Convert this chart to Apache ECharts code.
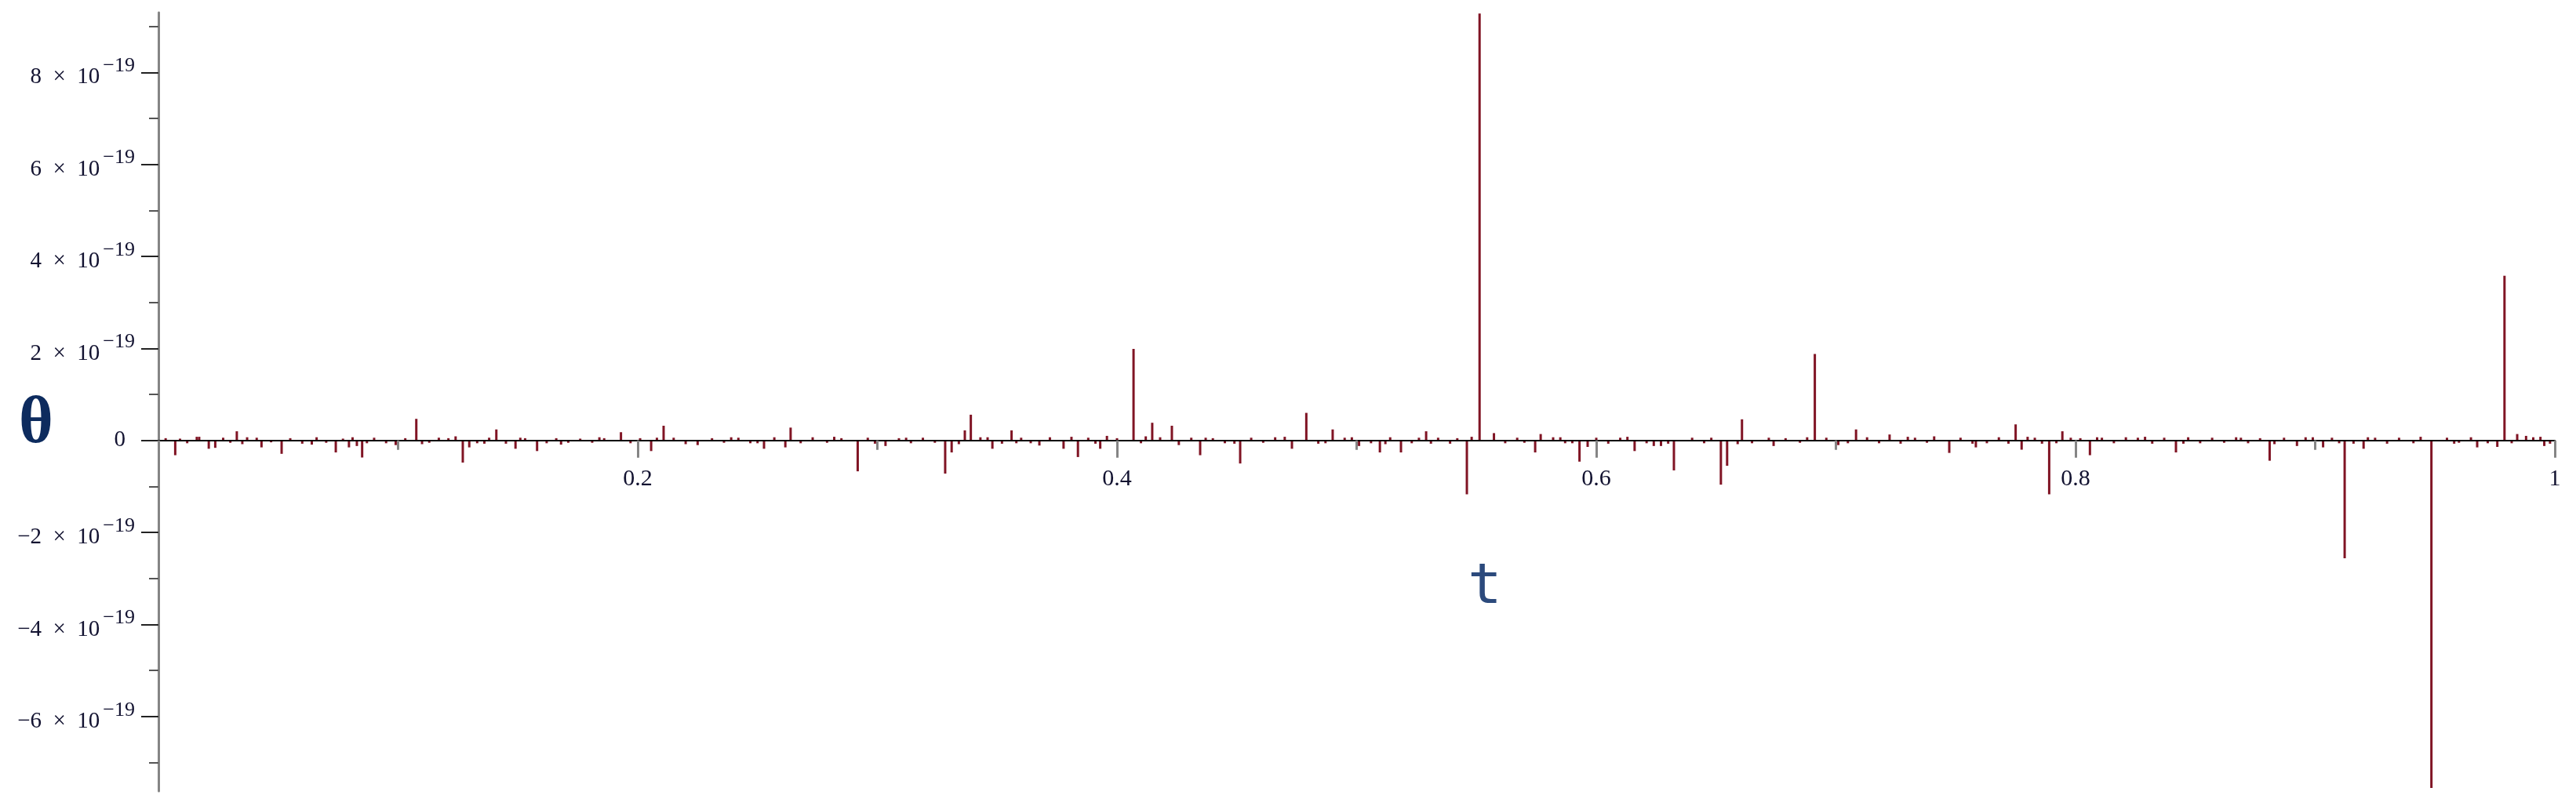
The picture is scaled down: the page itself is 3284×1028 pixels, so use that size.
<!DOCTYPE html>
<html>
<head>
<meta charset="utf-8" />
<style>
  html, body { margin: 0; padding: 0; background: #fff; }
  #main { width: 3284px; height: 1028px; }
</style>
<script src="https://cdn.jsdelivr.net/npm/echarts@6/dist/echarts.min.js"></script>
</head>
<body>
<div id="main"></div>
<script type="text/javascript">
// theta values are in units of 1e-19
var spikeT = [0.0070, 0.0210, 0.0237, 0.0327, 0.0430, 0.0514, 0.0740, 0.0795, 0.0828, 0.0850,
  0.0990, 0.1076, 0.1270, 0.1297, 0.1410, 0.1490, 0.1580, 0.1930,
  0.2056, 0.2108, 0.2527, 0.2616, 0.2638, 0.2918, 0.3034, 0.3283, 0.3310, 0.3365, 0.3390,
  0.3480, 0.3560, 0.3676, 0.3777, 0.3837, 0.3930, 0.3958,
  0.4069, 0.4147, 0.4229, 0.4258, 0.4347, 0.4514, 0.4730, 0.4790, 0.4900, 0.5010, 0.5097,
  0.5185, 0.5290, 0.5460, 0.5513, 0.5573, 0.5745, 0.5768, 0.5930, 0.5964,
  0.6160, 0.6324, 0.6520, 0.6546, 0.6608, 0.6912, 0.7010, 0.7084, 0.7224, 0.7473, 0.7584,
  0.7750, 0.7775, 0.7890, 0.7945,
  0.8060, 0.8419, 0.8810, 0.8924, 0.9033, 0.9123, 0.9202, 0.9485, 0.9676, 0.9760, 0.9790,
  0.9843, 0.9880, 0.9956];
var spikeV = [-0.32, -0.18, -0.16, 0.20, -0.15, -0.29, -0.26, -0.15, -0.12, -0.37,
  -0.10, 0.47, -0.48, -0.15, 0.24, -0.18, -0.23, 0.18,
  -0.23, 0.32, -0.18, -0.15, 0.28, -0.67, -0.12, -0.72, -0.26, 0.22, 0.56,
  -0.18, 0.22, -0.11, -0.18, -0.36, -0.18, 0.10,
  1.99, 0.385, 0.32, -0.10, -0.32, -0.50, -0.18, 0.60, 0.24, -0.12, -0.26,
  -0.26, 0.20, -1.17, 9.28, 0.16, -0.26, 0.14, -0.46, -0.14,
  -0.23, -0.65, -0.96, -0.55, 0.46, 1.88, -0.10, 0.24, 0.13, -0.27, -0.15,
  0.35, -0.20, -1.17, 0.20,
  -0.32, -0.26, -0.44, -0.12, -0.15, -2.56, -0.18, -7.55, -0.15, -0.14, 3.58,
  0.14, 0.10, -0.12];

var noiseT = [0.003, 0.012, 0.017, 0.027, 0.030, 0.037, 0.047, 0.055, 0.060, 0.066, 0.070, 0.077,
  0.090, 0.095, 0.103, 0.113, 0.117, 0.121, 0.133, 0.138, 0.145, 0.153, 0.162, 0.166, 0.171,
  0.176, 0.181, 0.186, 0.197, 0.201,
  0.215, 0.225, 0.231, 0.236, 0.242, 0.247, 0.257, 0.268, 0.273, 0.279, 0.285, 0.296, 0.309,
  0.314, 0.319, 0.324, 0.343, 0.352, 0.360, 0.364, 0.372, 0.388, 0.400,
  0.410, 0.418, 0.431, 0.440, 0.445, 0.456, 0.461, 0.466, 0.484, 0.495, 0.506, 0.514, 0.523,
  0.534, 0.539, 0.542, 0.562, 0.567, 0.570, 0.582, 0.587, 0.600,
  0.605, 0.610, 0.621, 0.624, 0.627, 0.640, 0.645, 0.665, 0.672, 0.674, 0.679, 0.685, 0.696,
  0.713, 0.718, 0.727, 0.733, 0.738, 0.752, 0.763, 0.768, 0.772, 0.783, 0.786, 0.798,
  0.802, 0.811, 0.816, 0.821, 0.826, 0.832, 0.837, 0.847, 0.852, 0.857, 0.862, 0.867, 0.872,
  0.877, 0.887, 0.896, 0.907, 0.916, 0.925, 0.930, 0.935, 0.941, 0.955, 0.960, 0.965, 0.972,
  0.991, 0.998,
  0.009, 0.016, 0.035, 0.041, 0.064, 0.081, 0.087, 0.110, 0.124, 0.136, 0.151, 0.168, 0.184,
  0.208, 0.220, 0.239, 0.250, 0.282, 0.299, 0.312, 0.334, 0.346, 0.358, 0.381, 0.391,
  0.412, 0.437, 0.449, 0.470, 0.487, 0.498, 0.512, 0.526, 0.531, 0.548, 0.585, 0.590,
  0.613, 0.630, 0.648, 0.659, 0.688, 0.705, 0.730, 0.741, 0.757, 0.780, 0.792,
  0.809, 0.829, 0.845, 0.869, 0.883, 0.899, 0.910, 0.922, 0.944, 0.958, 0.982, 0.994];
var noiseV = [0.05, -0.06, 0.08, 0.06, -0.05, 0.07, -0.04, 0.05, -0.07, 0.07, -0.05, 0.04,
  0.06, -0.06, 0.05, -0.05, 0.06, 0.05, -0.06, 0.06, -0.07, 0.05, -0.06, 0.05, -0.05,
  0.04, -0.05, 0.05, -0.06, 0.05,
  0.06, -0.10, 0.05, -0.05, 0.06, -0.06, 0.07, -0.06, 0.07, -0.05, 0.05, 0.06, 0.05,
  -0.06, 0.06, -0.05, 0.07, -0.07, 0.06, -0.06, 0.07, 0.06, 0.05,
  -0.06, 0.07, 0.06, 0.05, -0.06, 0.06, -0.05, 0.07, -0.07, 0.06, -0.06, 0.07, -0.06,
  0.06, -0.07, 0.05, -0.06, 0.06, -0.05, 0.07, -0.06, 0.06,
  -0.07, 0.06, -0.06, -0.12, -0.12, 0.06, -0.06, -0.06, 0.06, -0.12, 0.05, -0.05, 0.06,
  0.07, -0.06, -0.07, 0.06, -0.05, 0.06, -0.06, 0.07, -0.07, 0.06, -0.07, 0.06,
  0.05, 0.06, -0.06, 0.07, 0.06, -0.07, 0.06, 0.07, -0.06, 0.06, -0.05, 0.07, -0.06,
  0.05, 0.06, 0.07, 0.06, -0.07, 0.06, -0.07, 0.06, -0.06, 0.06, -0.05, 0.07, -0.06,
  0.07, -0.07,
  0.04, 0.08, -0.08, 0.06, -0.09, 0.07, -0.06, -0.08, 0.09, -0.07, 0.06, -0.09, 0.07,
  0.06, -0.08, 0.07, -0.06, 0.08, -0.07, 0.06, -0.08, 0.07, -0.06, 0.08, -0.07,
  0.09, 0.06, -0.07, 0.08, -0.06, 0.07, -0.08, 0.06, -0.07, 0.08, 0.07, -0.06,
  0.08, -0.07, 0.06, -0.08, 0.07, -0.06, 0.08, 0.09, -0.07, 0.08, -0.06,
  0.07, 0.08, -0.07, 0.06, -0.08, 0.07, -0.06, 0.07, 0.08, -0.07, -0.06, 0.08];

var yMajor = [-6, -4, -2, 0, 2, 4, 6, 8];
var yMinor = [-7, -5, -3, -1, 1, 3, 5, 7, 9];
var yMin = -7.62, yMax = 9.3;

var points = [];
for (var i = 0; i < noiseT.length; i++) points.push([noiseT[i], noiseV[i]]);
for (var j = 0; j < spikeT.length; j++) points.push([spikeT[j], spikeV[j]]);

var lineColor = '#801424';
var labelColor = '#121230';
var gridTop = 16, gridBottom = 19;
var gridHeight = 1028 - gridTop - gridBottom;
// put the t axis on theta = 0
var xOffset = -gridHeight * (0 - yMin) / (yMax - yMin);

function yLabel(v) {
    if (v === 0) return '{z|0}';
    var s = (v < 0 ? '\u2212' : '') + Math.abs(v);
    // trailing zero-width space keeps the line 42px tall so the exponent rides high
    return '{m|' + s + '\u2002\u00d7\u200210}{s|\u221219}\u200b';
}

var chart = echarts.init(document.getElementById('main'));
chart.setOption({
    backgroundColor: '#fff',
    animation: false,
    grid: { left: 202, right: 27, top: gridTop, bottom: gridBottom, containLabel: false, outerBoundsMode: 'none' },
    xAxis: {
        type: 'value', min: 0, max: 1, interval: 0.2, z: 5, position: 'bottom', offset: xOffset,
        axisLine: { onZero: false, lineStyle: { color: '#000', width: 2 } },
        axisTick: { length: 22, lineStyle: { color: '#858585', width: 3 } },
        minorTick: { show: true, splitNumber: 2, length: 12, lineStyle: { color: '#858585', width: 3 } },
        splitLine: { show: false },
        axisLabel: {
            margin: 34, fontFamily: 'Liberation Serif', fontSize: 30, color: labelColor,
            formatter: function (v) { return v === 0 ? '' : String(v); }
        }
    },
    yAxis: [{
        type: 'value', min: yMin, max: yMax, position: 'left', z: 4,
        axisLine: { show: true, onZero: false, lineStyle: { color: '#858585', width: 3 } },
        axisTick: { show: true, customValues: yMajor, length: 22, lineStyle: { color: '#222', width: 2 } },
        splitLine: { show: false },
        axisLabel: {
            customValues: yMajor, margin: 30, formatter: yLabel, lineHeight: 42,
            fontFamily: 'Liberation Serif', fontSize: 29, color: labelColor,
            rich: {
                m: { fontFamily: 'Liberation Serif', fontSize: 29, color: labelColor, lineHeight: 30, verticalAlign: 'bottom' },
                s: { fontFamily: 'Liberation Serif', fontSize: 26, color: labelColor, lineHeight: 24, verticalAlign: 'top', padding: [0, 0, 0, 4] },
                z: { fontFamily: 'Liberation Serif', fontSize: 29, color: labelColor, lineHeight: 40, padding: [0, 12, 0, 0] }
            }
        }
    }, {
        type: 'value', min: yMin, max: yMax, position: 'left', z: 4,
        axisLine: { show: false },
        axisTick: { show: true, customValues: yMinor, length: 12, lineStyle: { color: '#555', width: 2 } },
        axisLabel: { show: false },
        splitLine: { show: false }
    }],
    series: [{
        type: 'custom',
        data: points,
        encode: { x: 0, y: 1 },
        renderItem: function (params, api) {
            var t = api.value(0);
            var p0 = api.coord([t, 0]);
            var p1 = api.coord([t, api.value(1)]);
            return {
                type: 'line',
                shape: { x1: p0[0], y1: p0[1], x2: p1[0], y2: p1[1] },
                style: { stroke: lineColor, lineWidth: 3 }
            };
        }
    }],
    graphic: [{
        type: 'text', x: 46, y: 542,
        style: { text: '\u03b8', font: 'bold 84px "Liberation Serif"', fill: '#0d2b5e', align: 'center', verticalAlign: 'middle' }
    }, {
        type: 'text', x: 1893, y: 750,
        style: { text: 't', font: '72px "DejaVu Sans Mono"', fill: '#2c4a7c', align: 'center', verticalAlign: 'middle' }
    }]
});
</script>
</body>
</html>
